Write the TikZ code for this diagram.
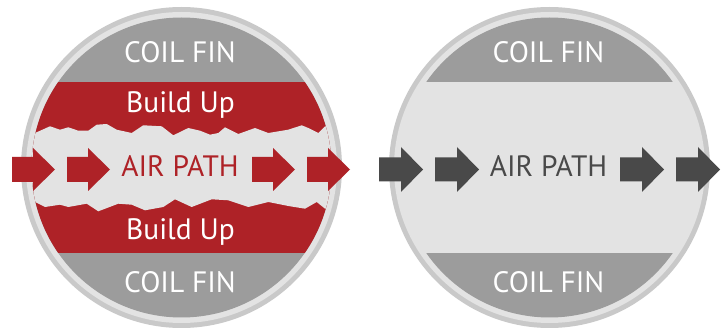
\documentclass[tikz,border=0pt]{standalone}
\usepackage{fontspec}
\setmainfont{PT Sans}
\definecolor{ringgray}{HTML}{C9C9C9}
\definecolor{lightgray}{HTML}{E3E3E3}
\definecolor{fingray}{HTML}{9C9C9C}
\definecolor{buildred}{HTML}{AE2227}
\definecolor{darkarrow}{HTML}{494949}
\begin{document}
\begin{tikzpicture}[x=1pt,y=-1pt,
  lbl/.style={anchor=base,inner sep=0pt,font=\fontsize{29.5}{29.5}\selectfont},
  whitelbl/.style={lbl,text=white},
]
\useasboundingbox (0,0) rectangle (724,331);
\fill[white] (0,0) rectangle (724,331);
% ---------- left circle ----------
\fill[ringgray] (181.5,167.5) circle[radius=160.5];
\fill[lightgray] (181.5,167.5) circle[radius=155.5];
\begin{scope}
\clip (181.5,167.5) circle[radius=150];
\fill[fingray] (20,0) rectangle (345,331);
\fill[buildred] (20,82) rectangle (345,253);
\fill[lightgray] (20,133) -- (35,133) -- (50,126.3) -- (60,129.7) -- (68.3,127.3) -- (78.3,130.7)
  -- (88.3,130.7) -- (96.7,124.7) -- (106.7,124) -- (116.7,129.7) -- (131.7,133)
  -- (143.3,125.3) -- (161.7,126.3) -- (173.3,135.3) -- (188.3,128) -- (200,130.7)
  -- (210,134.7) -- (218.3,133) -- (225,127.3) -- (238.3,134) -- (255,128)
  -- (268.3,133) -- (288.3,129.7) -- (301.7,125.3) -- (308.3,128) -- (318.3,133)
  -- (325,126.3) -- (345,126)
  -- (345,209) -- (325,208.7) -- (316.7,202) -- (305,208.7) -- (288.3,206)
  -- (268.3,202) -- (248.3,207) -- (228.3,200.3) -- (211.7,199.3) -- (191.7,207)
  -- (175,199.3) -- (163.3,207) -- (145,210.3) -- (131.7,204.7) -- (118.3,203.7)
  -- (98.3,211.3) -- (86.7,203.7) -- (68.3,207) -- (60,204.7) -- (45,207)
  -- (35,202) -- (20,202) -- cycle;
\end{scope}
% ---------- right circle ----------
\fill[ringgray] (549.5,167.5) circle[radius=160.5];
\fill[lightgray] (549.5,167.5) circle[radius=155.5];
\begin{scope}
\clip (549.5,167.5) circle[radius=150];
\fill[fingray] (390,0) rectangle (710,82);
\fill[fingray] (390,253) rectangle (710,331);
\end{scope}
% ---------- arrows ----------
\foreach \x in {12,67,252,307}
  \fill[buildred] (\x,157) -- ++(21,0) -- ++(0,-9) -- ++(22,21.5) -- ++(-22,21.5) -- ++(0,-9) -- ++(-21,0) -- cycle;
\foreach \x in {379,435,620,676}
  \fill[darkarrow] (\x,157.5) -- ++(22,0) -- ++(0,-10.5) -- ++(22,22.5) -- ++(-22,22.5) -- ++(0,-10.5) -- ++(-22,0) -- cycle;
% ---------- labels ----------
\node[whitelbl] (lfintop) at (180,63) {COIL FIN};
\node[whitelbl] (lbuildtop) at (180.5,113) {Build Up};
\node[lbl,text=buildred] (lair) at (180,177) {AIR PATH};
\node[whitelbl] (lbuildbot) at (180.5,240) {Build Up};
\node[whitelbl] (lfinbot) at (180,293) {COIL FIN};
\node[whitelbl] (rfintop) at (548.5,63) {COIL FIN};
\node[lbl,text=darkarrow] (rair) at (548.5,177) {AIR PATH};
\node[whitelbl] (rfinbot) at (548.5,293) {COIL FIN};
\end{tikzpicture}
\end{document}
